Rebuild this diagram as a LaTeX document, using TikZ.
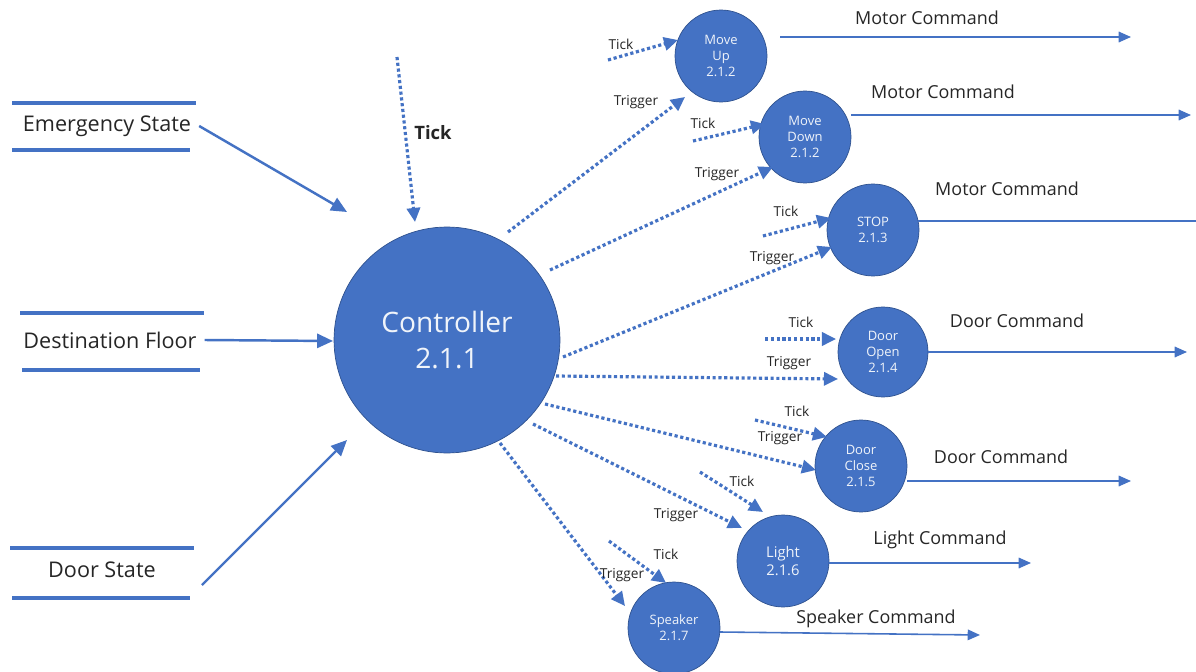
\documentclass[tikz,border=0pt]{standalone}
\usepackage{fontspec}
\setmainfont{Open Sans}
\usetikzlibrary{arrows.meta}
\definecolor{flow}{HTML}{4472C4}
\definecolor{rim}{HTML}{2F528F}
\definecolor{ink}{HTML}{262626}
\begin{document}
\begin{tikzpicture}[x=0.02cm,y=-0.02cm,
  proc/.style={circle,fill=flow,draw=rim,line width=0.4pt,text=white!92!flow,align=center,
    inner sep=0pt,minimum size=1.84cm,font=\fontsize{7.4}{9.2}\selectfont},
  storeline/.style={draw=flow,line width=2.2pt},
  storetext/.style={font=\fontsize{12.3}{14}\selectfont,text=ink,inner sep=1pt},
  inflow/.style={draw=flow,line width=1.4pt,-{Triangle[length=9pt,width=8pt]}},
  outflow/.style={draw=flow,line width=0.9pt,-{Triangle[length=7pt,width=6pt]}},
  ctl/.style={draw=flow,line width=1.8pt,dash pattern=on 1.8pt off 1.5pt,
    -{Triangle[length=8pt,width=7.5pt]}},
  lbl/.style={font=\fontsize{7.8}{9}\selectfont,text=ink,inner sep=0pt},
  cmd/.style={font=\fontsize{10.2}{12}\selectfont,text=ink,inner sep=0pt}]

\useasboundingbox[fill=white] (0,0) rectangle (1196,672);

% processes
\node[proc,minimum size=4.52cm,font=\fontsize{16}{20}\selectfont] (ctrl) at (447,340) {Controller\\2.1.1};
\node[proc] (mu) at (721,56)  {Move\\Up\\2.1.2};
\node[proc] (md) at (805,137) {Move\\Down\\2.1.2};
\node[proc] (st) at (873,230) {STOP\\2.1.3};
\node[proc,minimum size=1.80cm] (dop) at (883,352) {Door\\Open\\2.1.4};
\node[proc] (dcl) at (861,466) {Door\\Close\\2.1.5};
\node[proc,font=\fontsize{8.4}{10.4}\selectfont] (lt) at (783,561) {Light\\2.1.6};
\node[proc] (sp) at (674,628) {Speaker\\2.1.7};

% data stores
\node[storetext] (es) at (107,126) {Emergency State};
\draw[storeline] (12,103) -- (196,103);
\draw[storeline] (12,150) -- (190,150);
\node[storetext] (df) at (110,340) {Destination Floor};
\draw[storeline] (20,313) -- (204,313);
\draw[storeline] (22,370) -- (200,370);
\node[storetext] (ds) at (102,570) {Door State};
\draw[storeline] (10,548) -- (194,548);
\draw[storeline] (12,598) -- (190,598);

% inputs to the controller
\coordinate (esTip) at (347,212);
\coordinate (dfTip) at (333,341);
\coordinate (dsTip) at (347,440);
\coordinate (dsTail) at (202,585);
\draw[inflow] (es.east) ++(6,0) -- (esTip);
\draw[inflow] (df.east) ++(6,0) -- (dfTip);
\draw[inflow] (dsTail) -- (dsTip);

% main tick
\coordinate (tk0) at (397,57);
\coordinate (tk1) at (415,222);
\draw[ctl] (tk0) -- (tk1);
\node[lbl,font=\fontsize{10.5}{12}\selectfont\bfseries] (tklbl) at (433,133) {Tick};

% Move Up
\coordinate (muT0) at (608,60);  \coordinate (muT1) at (678,40);
\coordinate (muG0) at (508,232); \coordinate (muG1) at (685,97);
\draw[ctl] (muT0) -- (muT1);
\draw[ctl] (muG0) -- (muG1);
\node[lbl] (muTl) at (621,44)  {Tick};
\node[lbl] (muGl) at (636,102) {Trigger};

% Move Down
\coordinate (mdT0) at (693,141); \coordinate (mdT1) at (765,124);
\coordinate (mdG0) at (550,270); \coordinate (mdG1) at (773,167);
\draw[ctl] (mdT0) -- (mdT1);
\draw[ctl] (mdG0) -- (mdG1);
\node[lbl] (mdTl) at (703,123) {Tick};
\node[lbl] (mdGl) at (717,174) {Trigger};

% STOP
\coordinate (stT0) at (763,236); \coordinate (stT1) at (831,218);
\coordinate (stG0) at (563,357); \coordinate (stG1) at (832,247);
\draw[ctl] (stT0) -- (stT1);
\draw[ctl] (stG0) -- (stG1);
\node[lbl] (stTl) at (786,211) {Tick};
\node[lbl] (stGl) at (772,258) {Trigger};

% Door Open
\coordinate (doT0) at (765,339); \coordinate (doT1) at (836,339);
\coordinate (doG0) at (556,376); \coordinate (doG1) at (838,379);
\draw[ctl] (doT0) -- (doT1);
\draw[ctl] (doG0) -- (doG1);
\node[lbl] (doTl) at (801,322) {Tick};
\node[lbl] (doGl) at (789,363) {Trigger};

% Door Close
\coordinate (dcT0) at (755,420); \coordinate (dcT1) at (827,437);
\coordinate (dcG0) at (545,404); \coordinate (dcG1) at (816,470);
\draw[ctl] (dcT0) -- (dcT1);
\draw[ctl] (dcG0) -- (dcG1);
\node[lbl] (dcTl) at (797,411) {Tick};
\node[lbl] (dcGl) at (780,438) {Trigger};

% Light
\coordinate (ltT0) at (700,472); \coordinate (ltT1) at (763,512);
\coordinate (ltG0) at (533,424); \coordinate (ltG1) at (742,528);
\draw[ctl] (ltT0) -- (ltT1);
\draw[ctl] (ltG0) -- (ltG1);
\node[lbl] (ltTl) at (742,481) {Tick};
\node[lbl] (ltGl) at (676,515) {Trigger};

% Speaker
\coordinate (spT0) at (609,541); \coordinate (spT1) at (666,583);
\coordinate (spG0) at (500,443); \coordinate (spG1) at (625,606);
\draw[ctl] (spT0) -- (spT1);
\draw[ctl] (spG0) -- (spG1);
\node[lbl] (spTl) at (666,554) {Tick};
\node[lbl] (spGl) at (622,575) {Trigger};

% commands leaving the processes
\coordinate (muO0) at (780,37);  \coordinate (muO1) at (1131,37);
\coordinate (mdO0) at (851,115); \coordinate (mdO1) at (1191,115);
\coordinate (stO0) at (918,221); \coordinate (stO1) at (1225,221);
\coordinate (doO0) at (928,352); \coordinate (doO1) at (1187,352);
\coordinate (dcO0) at (907,481); \coordinate (dcO1) at (1131,481);
\coordinate (ltO0) at (829,563); \coordinate (ltO1) at (1031,563);
\coordinate (spO0) at (720,632); \coordinate (spO1) at (980,635);
\draw[outflow] (muO0) -- (muO1);
\draw[outflow] (mdO0) -- (mdO1);
\draw[outflow] (stO0) -- (stO1);
\draw[outflow] (doO0) -- (doO1);
\draw[outflow] (dcO0) -- (dcO1);
\draw[outflow] (ltO0) -- (ltO1);
\draw[outflow] (spO0) -- (spO1);
\node[cmd] (muC) at (927,18)  {Motor Command};
\node[cmd] (mdC) at (943,92)  {Motor Command};
\node[cmd] (stC) at (1007,189) {Motor Command};
\node[cmd] (doC) at (1017,321) {Door Command};
\node[cmd] (dcC) at (1001,457) {Door Command};
\node[cmd] (ltC) at (940,540)  {Light Command};
\node[cmd] (spC) at (876,619)  {Speaker Command};
\end{tikzpicture}
\end{document}
